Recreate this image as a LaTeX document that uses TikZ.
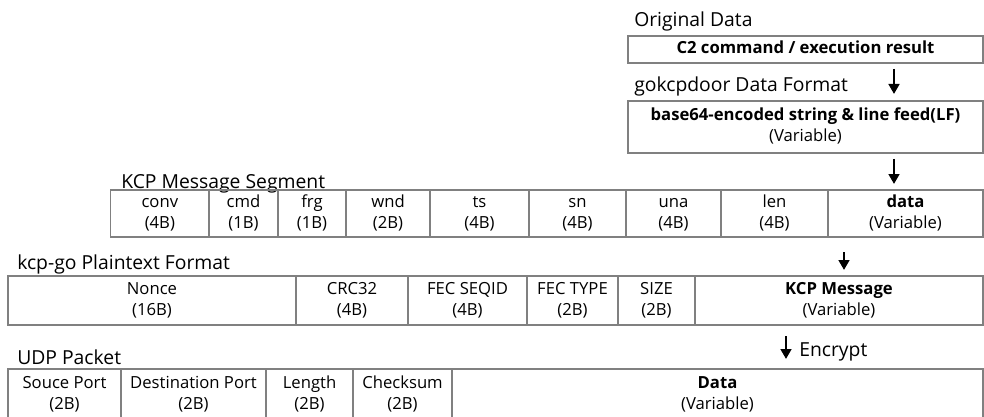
\documentclass[tikz,border=0pt]{standalone}
\usepackage{fontspec}
\setmainfont{Open Sans}
\usetikzlibrary{arrows.meta}
\definecolor{boxgray}{RGB}{128,128,128}
\newcommand\cellbox[6]{\node[cell, minimum width={(#3-#2)*0.75pt}, minimum height={(#5-#4)*0.75pt}] (#1) at ({(#2+#3)/2},{(#4+#5)/2}) {\strut #6\strut};}
\begin{document}
\begin{tikzpicture}[x=0.75pt,y=-0.75pt,
  cell/.style={draw=boxgray, line width=1pt, inner sep=0pt, align=center, font=\fontsize{12.5}{16}\selectfont},
  lbl/.style={anchor=base west, inner sep=0pt, font=\fontsize{14.5}{17}\selectfont},
  flow/.style={-{Triangle[length=7.5pt,width=8pt]}, line width=2pt}]
\useasboundingbox (0,0) rectangle (984,417);
% labels
\node[lbl] (lorig) at (634,27) {Original Data};
\node[lbl] (lgok) at (634,92) {gokcpdoor Data Format};
\node[lbl] (lkcp) at (121,188) {KCP Message Segment};
\node[lbl] (lkcpgo) at (17,269) {kcp-go Plaintext Format};
\node[lbl] (ludp) at (17,364) {UDP Packet};
% top boxes
\cellbox{orig}{628}{983}{36}{63}{\textbf{C2 command / execution result}}
\cellbox{gok}{628}{983}{101}{153}{\textbf{base64-encoded string \& line feed(LF)}\\(Variable)}
% KCP segment
\cellbox{conv}{110.7}{209}{190}{237}{conv\\(4B)}
\cellbox{cmd}{209}{278}{190}{237}{cmd\\(1B)}
\cellbox{frg}{278}{346}{190}{237}{frg\\(1B)}
\cellbox{wnd}{346}{430}{190}{237}{wnd\\(2B)}
\cellbox{ts}{430}{529}{190}{237}{ts\\(4B)}
\cellbox{sn}{529}{626}{190}{237}{sn\\(4B)}
\cellbox{una}{626}{721}{190}{237}{una\\(4B)}
\cellbox{len}{721}{828}{190}{237}{len\\(4B)}
\cellbox{kdata}{828}{983}{190}{237}{\textbf{data}\\(Variable)}
% kcp-go
\cellbox{nonce}{8}{296}{276}{325}{Nonce\\(16B)}
\cellbox{crc}{296}{408}{276}{325}{CRC32\\(4B)}
\cellbox{seqid}{408}{527}{276}{325}{FEC SEQID\\(4B)}
\cellbox{ftype}{527}{618}{276}{325}{FEC TYPE\\(2B)}
\cellbox{size}{618}{695}{276}{325}{SIZE\\(2B)}
\cellbox{kmsg}{695}{983}{276}{325}{\textbf{KCP Message}\\(Variable)}
% UDP
\cellbox{sport}{8}{121}{369}{420}{Souce Port\\(2B)}
\cellbox{dport}{121}{266}{369}{420}{Destination Port\\(2B)}
\cellbox{ulen}{266}{353}{369}{420}{Length\\(2B)}
\cellbox{csum}{353}{452}{369}{420}{Checksum\\(2B)}
\cellbox{udata}{452}{983}{369}{420}{\textbf{Data}\\(Variable)}
% arrows
\coordinate (a1s) at (894,69); \coordinate (a1e) at (894,94);
\coordinate (a2s) at (894,159); \coordinate (a2e) at (894,184);
\coordinate (a3s) at (844,252); \coordinate (a3e) at (844,270);
\coordinate (a4s) at (786,336); \coordinate (a4e) at (786,359);
\draw[flow] (a1s) -- (a1e);
\draw[flow] (a2s) -- (a2e);
\draw[flow] (a3s) -- (a3e);
\draw[flow] (a4s) -- (a4e);
\node[lbl] (lenc) at (799,356) {Encrypt};
\end{tikzpicture}
\end{document}
